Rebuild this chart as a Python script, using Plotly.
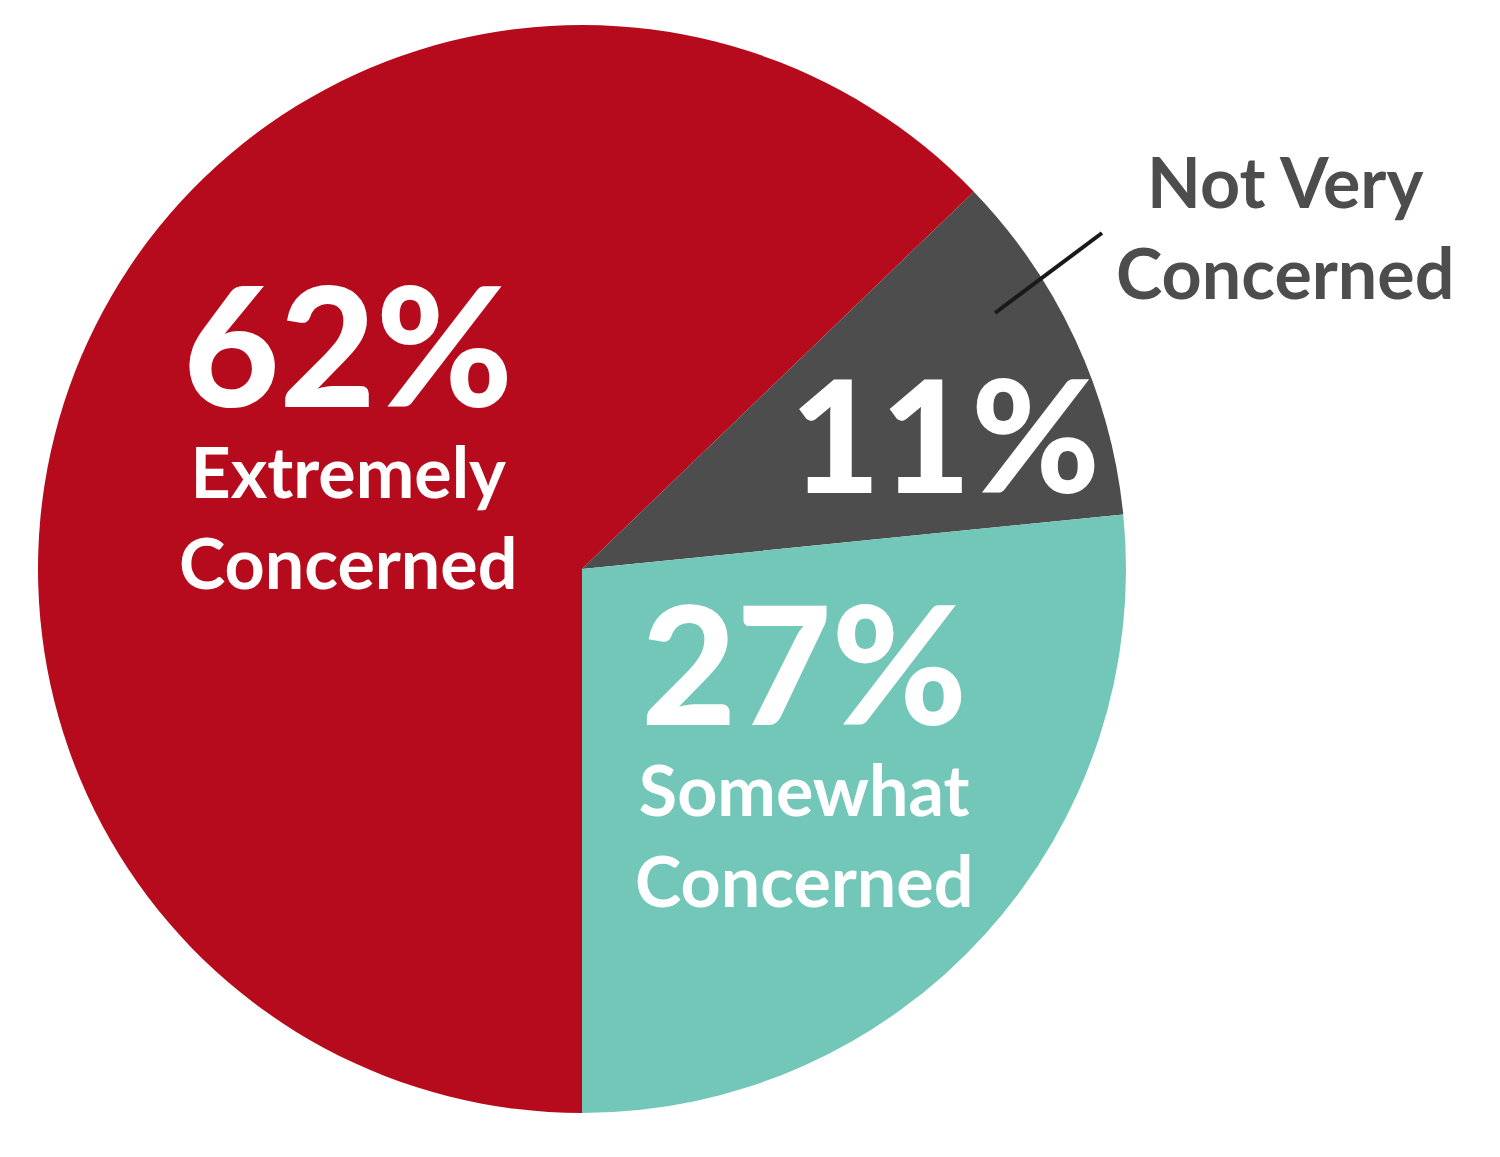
import plotly.graph_objects as go

labels = ["Extremely Concerned", "Not Very Concerned", "Somewhat Concerned"]
pct_labels = ["62%", "11%", "27%"]
# slice sizes as drawn (measured from slice angles)
values = [62.8, 10.6, 26.6]
colors = ["#B50B1C", "#4D4D4D", "#72C7B8"]

W, H = 1500, 1157
cx, cy, r = 574, 561, 544

def px(x):
    return x / W

def py(y):
    return 1 - y / H

fig = go.Figure(go.Pie(
    labels=labels, values=values, sort=False, direction="clockwise", rotation=180,
    marker=dict(colors=colors, line=dict(width=0)),
    textinfo="none", hoverinfo="label", showlegend=False,
    domain=dict(x=[px(cx - r), px(cx + r)], y=[py(cy + r), py(cy - r)]),
))

FONT = "Lato"
ann = []
def add(text, x, y, size, color, weight=700):
    ann.append(dict(text=text, x=px(x), y=py(y), xref="paper", yref="paper",
                    showarrow=False, xanchor="center", yanchor="middle",
                    font=dict(family=FONT, size=size, color=color, weight=weight)))

def big(t, s=162):
    return f"<span style='font-size:{s}px;font-weight:900'>{t}</span>"

add(big(pct_labels[0], 166) + "<br>Extremely<br>Concerned", 340, 415, 70, "white")
add(big(pct_labels[1], 156), 937, 425, 70, "white")
add(big(pct_labels[2], 164) + "<br>Somewhat<br>Concerned", 796, 735, 70, "white")
add("Not Very<br>Concerned", 1277, 218, 70, "#4D4D4D")

fig.update_layout(
    width=W, height=H, margin=dict(l=0, r=0, t=0, b=0),
    paper_bgcolor="white", plot_bgcolor="white",
    annotations=ann,
    shapes=[dict(type="line", xref="paper", yref="paper",
                 x0=px(1094), y0=py(225), x1=px(987), y1=py(305),
                 line=dict(color="#1a1a1a", width=4))],
)
fig.write_html("out.html")
